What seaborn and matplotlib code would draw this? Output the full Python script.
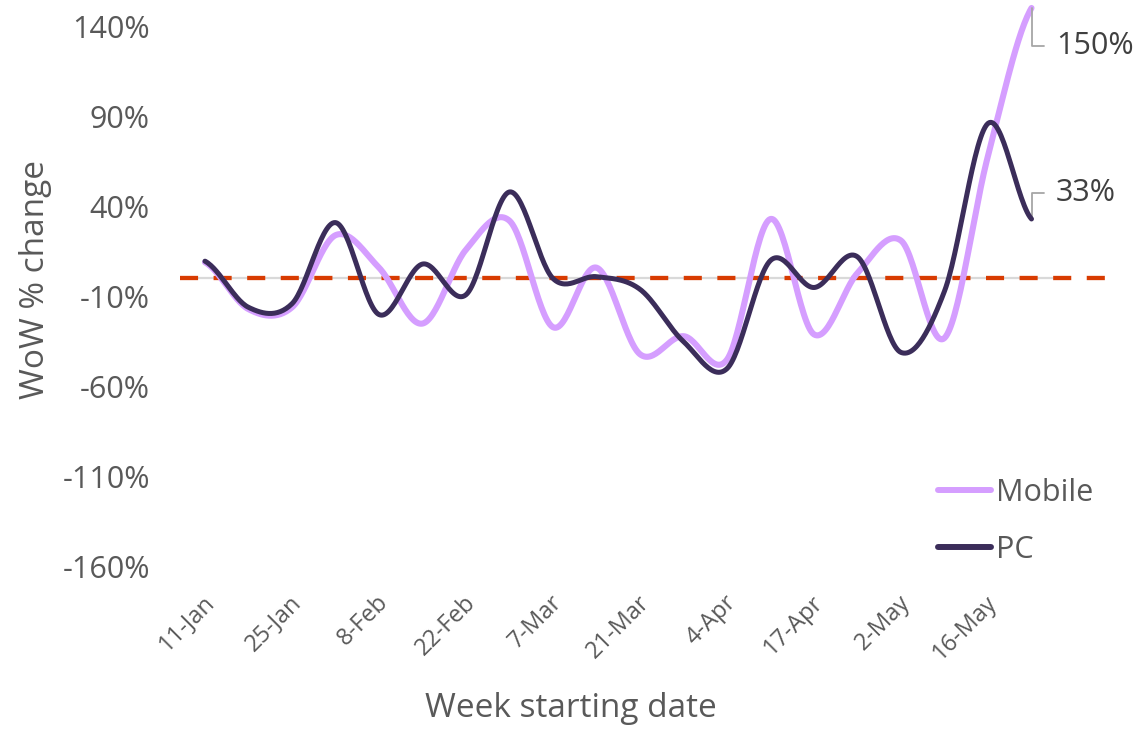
import numpy as np
import pandas as pd
import matplotlib
matplotlib.use("Agg")
import matplotlib.pyplot as plt
import seaborn as sns
from matplotlib.lines import Line2D
from matplotlib.transforms import ScaledTranslation

# week-over-week % change
weeks = ['11-Jan', '18-Jan', '25-Jan', '1-Feb', '8-Feb', '15-Feb', '22-Feb',
         '1-Mar', '7-Mar', '14-Mar', '21-Mar', '28-Mar', '4-Apr', '11-Apr',
         '17-Apr', '25-Apr', '2-May', '9-May', '16-May', '23-May']
mobile = [9, -17, -16, 24, 6, -25, 16, 32, -27, 6,
          -42, -32, -45, 33, -31, 3, 21, -33, 68, 150]
pc = [9.6, -16, -14, 31, -20, 8, -9, 48, 0, 1,
      -6, -35, -50, 10, -5, 12, -41, -7, 86, 33]
y_ticks = [-160, -110, -60, -10, 40, 90, 140]

MOBILE_COL = '#D59EFF'
PC_COL = '#3B2D5A'
REF_COL = '#D83B01'
TEXT_COL = '#595959'


def smooth_line(values, steps=30):
    """Excel-style smoothed line (Catmull-Rom through every data point)."""
    p = np.asarray(values, dtype=float)
    ext = np.concatenate([[p[0]], p, [p[-1]]])
    xs, ys = [], []
    t = np.linspace(0, 1, steps, endpoint=False)
    for k in range(len(p) - 1):
        p0, p1, p2, p3 = ext[k], ext[k + 1], ext[k + 2], ext[k + 3]
        m1 = (p2 - p0) / 2
        m2 = (p3 - p1) / 2
        h00 = 2 * t**3 - 3 * t**2 + 1
        h10 = t**3 - 2 * t**2 + t
        h01 = -2 * t**3 + 3 * t**2
        h11 = t**3 - t**2
        xs.append(k + t)
        ys.append(h00 * p1 + h10 * m1 + h01 * p2 + h11 * m2)
    xs.append([len(p) - 1])
    ys.append([p[-1]])
    return np.concatenate(xs), np.concatenate(ys)


sns.set_theme(style="white")
plt.rcParams['font.family'] = ['Open Sans', 'DejaVu Sans']

fig = plt.figure(figsize=(11.35, 7.3), dpi=100)
ax = fig.add_axes([183.25 / 1135, 1 - 567 / 730, 870 / 1135, 559 / 730])

frames = []
for name, vals in [('Mobile', mobile), ('PC', pc)]:
    sx, sy = smooth_line(vals)
    frames.append(pd.DataFrame({'pos': sx, 'change': sy, 'device': name}))
df = pd.concat(frames, ignore_index=True)

# zero axis line and dashed reference
ax.axhline(0, color='#D9D9D9', lw=1.6, zorder=1)
ax.axhline(0, xmin=-0.004, xmax=1.06, color=REF_COL, lw=3.1,
           linestyle=(0, (4.2, 3.6)), clip_on=False, zorder=2)

sns.lineplot(data=df[df.device == 'Mobile'], x='pos', y='change', sort=False,
             estimator=None, color=MOBILE_COL, linewidth=4.4, ax=ax,
             legend=False, zorder=3)
sns.lineplot(data=df[df.device == 'PC'], x='pos', y='change', sort=False,
             estimator=None, color=PC_COL, linewidth=3.6, ax=ax,
             legend=False, zorder=4)
for line in ax.lines:
    line.set_clip_on(False)
    line.set_solid_capstyle('round')

ax.set_xlim(-0.5, len(weeks) - 0.5)
ax.set_ylim(-160, 150)
sns.despine(ax=ax, left=True, bottom=True)

ax.set_yticks(y_ticks)
ax.set_yticklabels([f'{t}%' for t in y_ticks])
ax.set_xticks(range(0, len(weeks), 2))
ax.set_xticklabels(weeks[::2])
ax.tick_params(axis='y', length=0, pad=24, labelsize=22, labelcolor=TEXT_COL)
ax.tick_params(axis='x', length=0, pad=23, labelsize=17, labelcolor=TEXT_COL)
for lbl in ax.get_xticklabels():
    lbl.set_rotation(45)
    lbl.set_ha('right')
    lbl.set_va('center')
    lbl.set_rotation_mode('anchor')
    lbl.set_transform(lbl.get_transform() +
                      ScaledTranslation(0.06, 0, fig.dpi_scale_trans))

ax.set_xlabel('Week starting date', fontsize=24, color=TEXT_COL, va='center')
ax.xaxis.set_label_coords(0.445, -0.254)
ax.set_ylabel('WoW % change', fontsize=24, color=TEXT_COL, va='center')
ax.yaxis.set_label_coords(-0.170, 0.515)

# end-of-line value labels with elbow leaders
last = len(weeks) - 1
for vals, dy in [(mobile, -27), (pc, 19)]:
    ax.annotate(f'{vals[-1]:.0f}%', xy=(last, vals[-1]),
                xytext=(17.5, dy), textcoords='offset points',
                ha='left', va='center', fontsize=22, color='#404040',
                annotation_clip=False,
                arrowprops=dict(arrowstyle='-', color='#A6A6A6', lw=1.3,
                                connectionstyle='angle,angleA=0,angleB=90,rad=0',
                                shrinkA=6, shrinkB=0))

handles = [Line2D([], [], color=MOBILE_COL, lw=4.3, solid_capstyle='round'),
           Line2D([], [], color=PC_COL, lw=4.3, solid_capstyle='round')]
ax.legend(handles, ['Mobile', 'PC'], loc='upper left',
          bbox_to_anchor=(938 / 1135, 1 - 478 / 730),
          bbox_transform=fig.transFigure, frameon=False, fontsize=22,
          labelcolor=TEXT_COL, handlelength=1.75, handletextpad=0.15,
          labelspacing=0.88, borderpad=0, borderaxespad=0)

fig.savefig('out.png', dpi=100, facecolor='white')
